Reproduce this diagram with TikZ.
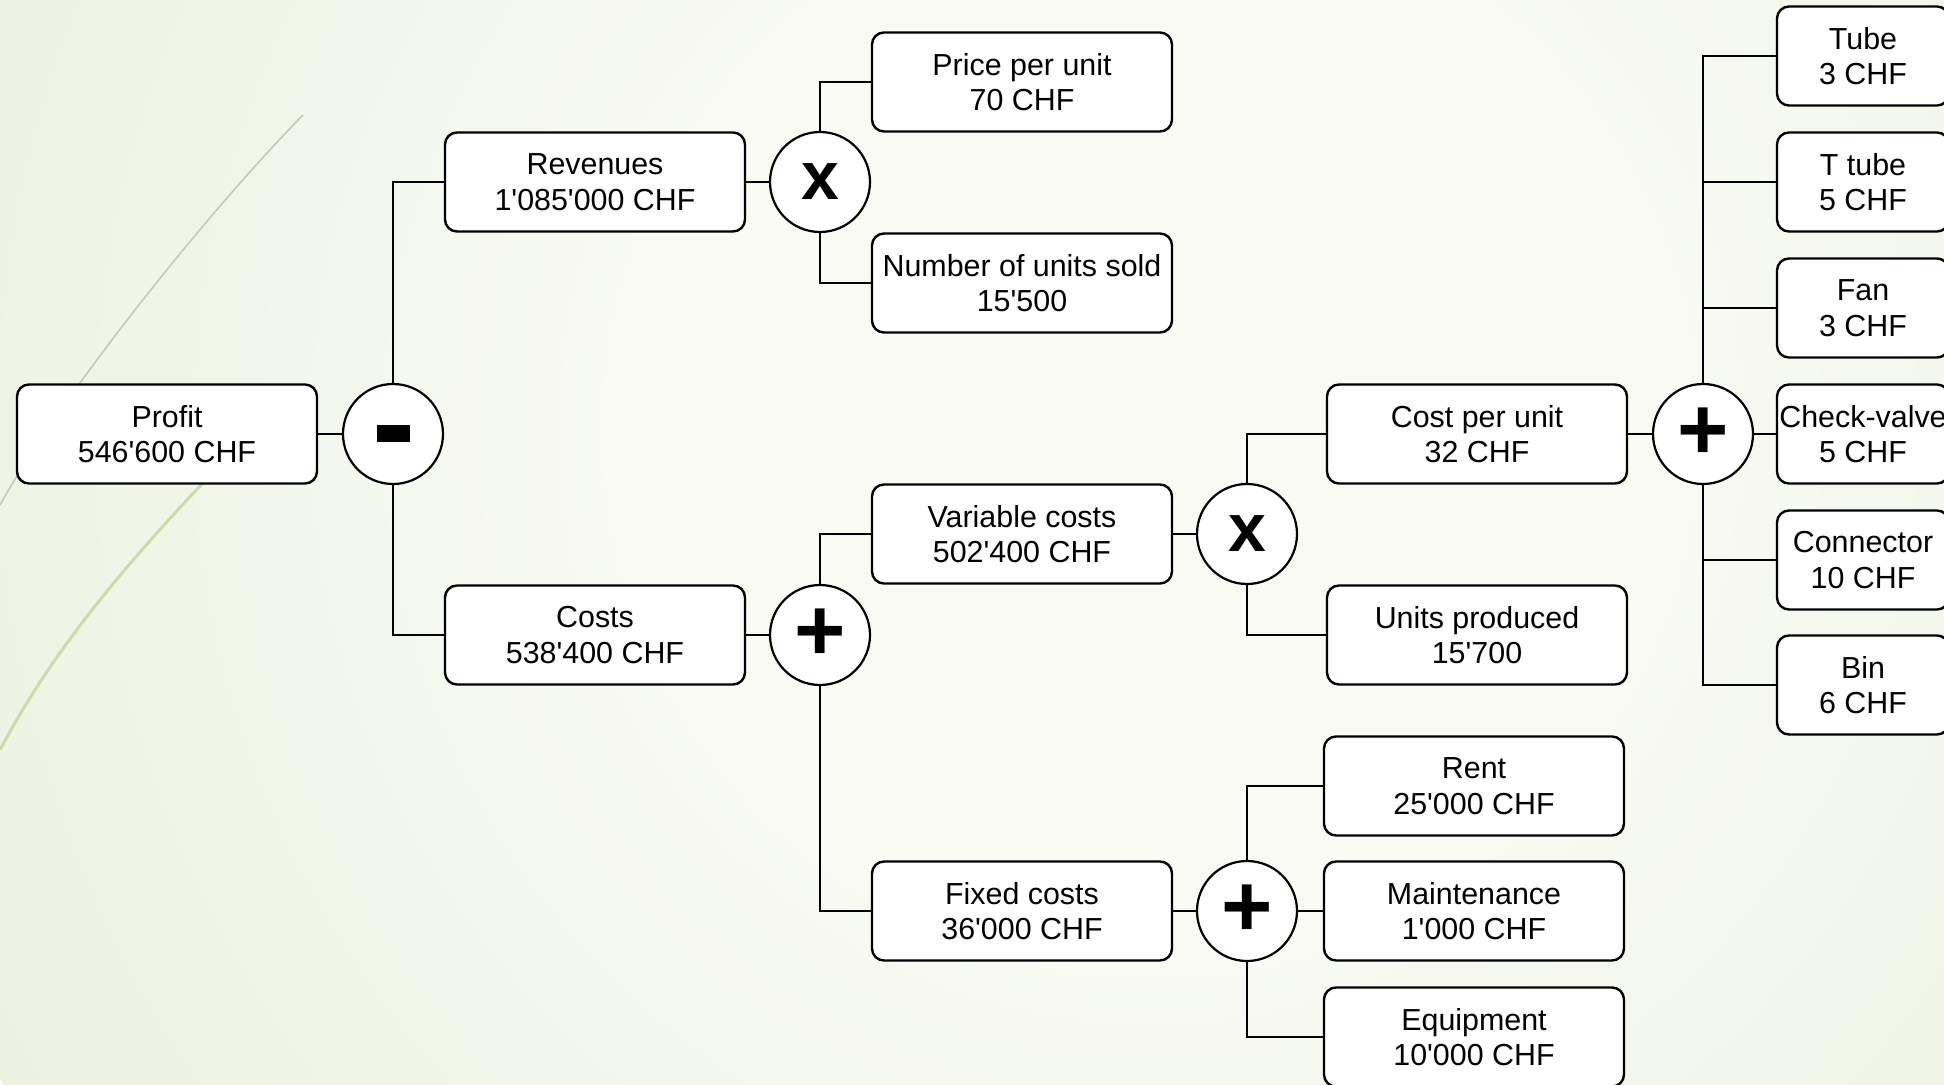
\documentclass[tikz,border=0pt]{standalone}
\usepackage{fontspec}
\setmainfont{Liberation Sans}
\newcommand{\ap}{\textquotesingle}
\definecolor{bginner}{RGB}{248,250,243}
\definecolor{bgouter}{RGB}{216,228,192}
\definecolor{curvegray}{RGB}{198,200,186}
\definecolor{curvegreen}{RGB}{206,219,166}
\pgfdeclareradialshading{bgshade}{\pgfpoint{0bp}{0bp}}{color(0bp)=(bginner); color(10bp)=(bginner); color(50bp)=(bgouter)}
\begin{document}
\begin{tikzpicture}[x=0.5pt,y=-0.5pt,
  box/.style={draw=black, line width=1.2pt, fill=white, rounded corners=6pt,
    minimum width=150pt, minimum height=49.5pt, inner sep=0pt, align=center,
    font=\fontsize{15.2}{17.8}\selectfont},
  smallbox/.style={box, minimum width=86pt},
  op/.style={draw=black, line width=1.1pt, fill=white, circle, minimum size=50pt, inner sep=0pt},
  opx/.style={op, font=\fontsize{34}{34}\selectfont\bfseries},
  opplus/.style={op, font=\fontsize{44}{44}\selectfont\bfseries},
  link/.style={line width=1.2pt, draw=black}]

\useasboundingbox (0,0) rectangle (1944,1085);
\begin{scope}
  \clip (0,0) rectangle (1944,1085);
  \shade[shading=bgshade] (1150,430) circle (660pt);
\end{scope}
\draw[curvegray, line width=0.8pt] (0,505) .. controls (55,405) and (200,220) .. (303,115);
\draw[curvegreen, line width=1.5pt] (0,750) .. controls (45,665) and (105,585) .. (220,465);

% nodes
\node[box] (profit) at (167,434) {Profit\\546\ap600 CHF};
\node[op] (minus) at (393,434) {\rule{16.5pt}{8.5pt}};
\node[box] (rev) at (595,182) {Revenues\\1\ap085\ap000 CHF};
\node[box] (costs) at (595,635) {Costs\\538\ap400 CHF};
\node[opx] (xrev) at (820,182) {x};
\node[opplus] (pcost) at (820,635) {+};
\node[box] (price) at (1022,82) {Price per unit\\70 CHF};
\node[box] (nunits) at (1022,283) {Number of units sold\\15\ap500};
\node[box] (varc) at (1022,534) {Variable costs\\502\ap400 CHF};
\node[box] (fixc) at (1022,911) {Fixed costs\\36\ap000 CHF};
\node[opx] (xvar) at (1247,534) {x};
\node[opplus] (pfix) at (1247,911) {+};
\node[box] (cpu) at (1477,434) {Cost per unit\\32 CHF};
\node[box] (uprod) at (1477,635) {Units produced\\15\ap700};
\node[box] (rent) at (1474,786) {Rent\\25\ap000 CHF};
\node[box] (maint) at (1474,911) {Maintenance\\1\ap000 CHF};
\node[box] (equip) at (1474,1037) {Equipment\\10\ap000 CHF};
\node[opplus] (pcpu) at (1703,434) {+};
\node[smallbox] (tube) at (1863,56) {Tube\\3 CHF};
\node[smallbox] (ttube) at (1863,182) {T tube\\5 CHF};
\node[smallbox] (fan) at (1863,308) {Fan\\3 CHF};
\node[smallbox] (check) at (1863,434) {Check-valve\\5 CHF};
\node[smallbox] (conn) at (1863,560) {Connector\\10 CHF};
\node[smallbox] (bin) at (1863,685) {Bin\\6 CHF};

% connectors
\draw[link] (profit.east) -- (minus.west);
\draw[link] (minus.north) |- (rev.west);
\draw[link] (minus.south) |- (costs.west);
\draw[link] (rev.east) -- (xrev.west);
\draw[link] (xrev.north) |- (price.west);
\draw[link] (xrev.south) |- (nunits.west);
\draw[link] (costs.east) -- (pcost.west);
\draw[link] (pcost.north) |- (varc.west);
\draw[link] (pcost.south) |- (fixc.west);
\draw[link] (varc.east) -- (xvar.west);
\draw[link] (xvar.north) |- (cpu.west);
\draw[link] (xvar.south) |- (uprod.west);
\draw[link] (fixc.east) -- (pfix.west);
\draw[link] (pfix.north) |- (rent.west);
\draw[link] (pfix.east) -- (maint.west);
\draw[link] (pfix.south) |- (equip.west);
\draw[link] (cpu.east) -- (pcpu.west);
\draw[link] (pcpu.north) |- (tube.west);
\draw[link] (pcpu.north) |- (ttube.west);
\draw[link] (pcpu.north) |- (fan.west);
\draw[link] (pcpu.east) -- (check.west);
\draw[link] (pcpu.south) |- (conn.west);
\draw[link] (pcpu.south) |- (bin.west);
\end{tikzpicture}
\end{document}
